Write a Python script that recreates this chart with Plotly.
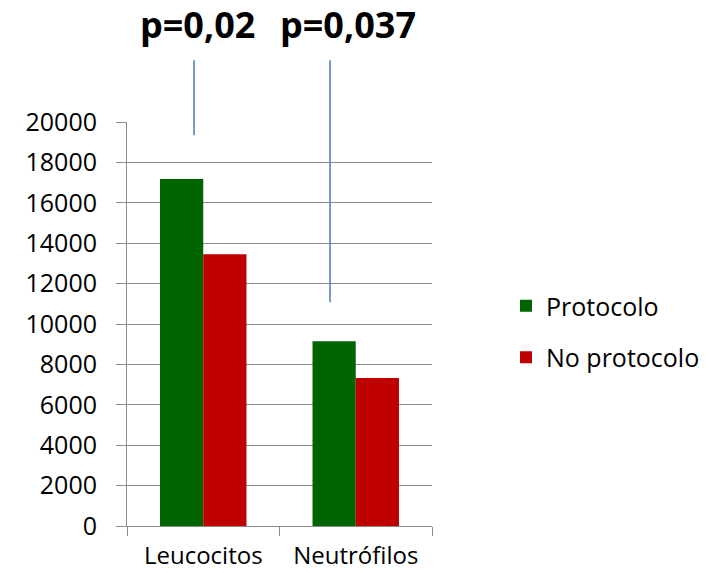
import plotly.graph_objects as go

categories = ["Leucocitos", "Neutrófilos"]
protocolo = [17180, 9140]
no_protocolo = [13450, 7330]
series_names = ["Protocolo", "No protocolo"]
y_ticks = [0, 2000, 4000, 6000, 8000, 10000, 12000, 14000, 16000, 18000, 20000]
p_labels = ["p=0,02", "p=0,037"]

FONT = "Open Sans"
GRID = "#8c8c8c"

fig = go.Figure()
fig.add_trace(go.Bar(x=categories, y=protocolo, name=series_names[0],
                     marker=dict(color="#006400", line=dict(width=0)),
                     legendgroup="a"))
fig.add_trace(go.Bar(x=categories, y=no_protocolo, name=series_names[1],
                     marker=dict(color="#C00000", line=dict(width=0)),
                     legendgroup="b"))

# p-value markers (lines + labels)
line_color = "#4A7EBB"
fig.add_shape(type="line", xref="paper", yref="paper",
              x0=0.2197, x1=0.2197, y0=0.967, y1=1.1526,
              line=dict(color=line_color, width=1.5))
fig.add_shape(type="line", xref="paper", yref="paper",
              x0=0.6656, x1=0.6656, y0=0.554, y1=1.1526,
              line=dict(color=line_color, width=1.5))
fig.add_annotation(text="<b>" + p_labels[0] + "</b>", xref="paper", yref="paper",
                   x=(197 - 127) / 305, y=(526 - 24) / 404, showarrow=False,
                   xanchor="center", yanchor="middle",
                   font=dict(family=FONT, size=36, color="black"))
fig.add_annotation(text="<b>" + p_labels[1] + "</b>", xref="paper", yref="paper",
                   x=(348 - 127) / 305, y=(526 - 24) / 404, showarrow=False,
                   xanchor="center", yanchor="middle",
                   font=dict(family=FONT, size=36, color="black"))

fig.update_layout(
    width=710, height=573,
    margin=dict(l=127, r=278, t=122, b=47, autoexpand=False),
    paper_bgcolor="white", plot_bgcolor="white",
    barmode="group", bargap=0.433, bargroupgap=0,
    font=dict(family=FONT, color="black"),
    showlegend=True,
    legend=dict(x=(506 - 127) / 305, xanchor="left", y=(526 - 283) / 404, yanchor="top",
                traceorder="grouped", tracegroupgap=16,
                font=dict(family=FONT, size=25, color="black"),
                bgcolor="rgba(0,0,0,0)", borderwidth=0),
)
fig.update_yaxes(range=[0, 20000], tickvals=y_ticks, showgrid=True, gridcolor=GRID,
                 gridwidth=1, showline=True, linecolor=GRID, linewidth=1,
                 ticks="outside", ticklen=10, tickcolor=GRID, zeroline=False,
                 tickfont=dict(family=FONT, size=25, color="black"),
                 ticklabelstandoff=14, tickformat="d", automargin=False)
fig.update_xaxes(showgrid=False, showline=True, linecolor=GRID, linewidth=1,
                 ticks="outside", ticklen=9, tickcolor=GRID, tickson="boundaries",
                 tickfont=dict(family=FONT, size=24, color="black"),
                 ticklabelstandoff=8, automargin=False)

fig.write_html("out.html")
